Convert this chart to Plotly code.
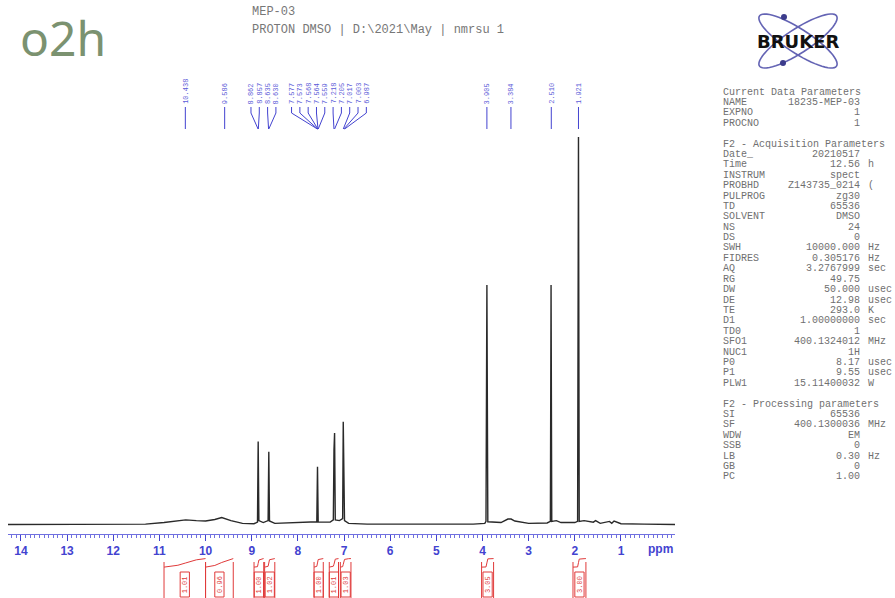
import numpy as np
import plotly.graph_objects as go

W, H = 895, 598

# spectrum: chemical shift (ppm) and relative intensity
ppm = [14.28, 12.0, 11.3, 10.9, 10.6, 10.43, 10.2, 10.0, 9.8, 9.65, 9.45, 9.2, 8.95,
       8.875, 8.86, 8.845, 8.75, 8.645, 8.63, 8.615, 8.5,
       7.62, 7.59, 7.575, 7.56, 7.3, 7.232, 7.218, 7.211, 7.205, 7.19, 7.1,
       7.03, 7.017, 7.010, 7.003, 6.99, 6.9, 6.5, 4.2, 3.95, 3.925, 3.905, 3.885,
       3.6, 3.45, 3.38, 3.3, 3.0, 2.6, 2.53, 2.515, 2.50, 2.4, 2.3, 2.0,
       1.94, 1.921, 1.905, 1.8, 1.6, 1.55, 1.45, 1.25, 1.2, 1.15, 1.0, 0.5, -0.17]
intensity = [0.0, 0.1, 0.1, 0.5, 1.0, 1.2, 1.0, 0.9, 1.3, 1.8, 1.0, 0.3, 0.2,
             0.6, 21.4, 1.0, 0.5, 1.0, 18.8, 0.9, 0.3,
             0.5, 0.7, 14.9, 0.6, 0.6, 1.2, 19.2, 9.0, 23.6, 1.2, 1.0,
             1.5, 26.5, 10.0, 22.3, 1.0, 0.3, 0.1, 0.1, 0.3, 0.8, 61.8, 0.7,
             0.5, 1.4, 1.4, 0.9, 0.3, 0.4, 0.8, 61.8, 0.8, 1.0, 0.5, 0.5,
             0.8, 100.0, 0.8, 1.0, 0.6, 1.0, 0.3, 0.8, 0.3, 0.9, 0.2, 0.1, 0.0]

# peak pick labels
peak_ppm = [10.438, 9.586, 8.862, 8.857, 8.635, 8.630,
            7.577, 7.573, 7.568, 7.564, 7.559, 7.218, 7.205, 7.017, 7.003, 6.987,
            3.905, 3.384, 2.510, 1.921]

# integrals
int_from = [10.90, 10.00, 8.95, 8.72, 7.65, 7.32, 7.08, 4.02, 2.04]
int_to = [10.00, 9.40, 8.74, 8.50, 7.45, 7.12, 6.85, 3.76, 1.76]
int_vals = ["1.01", "0.96", "1.00", "1.02", "1.00", "1.01", "1.03", "3.05", "3.00"]

x_ticks = list(range(14, 0, -1))

# acquisition / processing parameters panel
params = [
    ("Current Data Parameters", "", ""),
    ("NAME", "18235-MEP-03", ""),
    ("EXPNO", "1", ""),
    ("PROCNO", "1", ""),
    ("", "", ""),
    ("F2 - Acquisition Parameters", "", ""),
    ("Date_", "20210517", ""),
    ("Time", "12.56", "h"),
    ("INSTRUM", "spect", ""),
    ("PROBHD", "Z143735_0214", "("),
    ("PULPROG", "zg30", ""),
    ("TD", "65536", ""),
    ("SOLVENT", "DMSO", ""),
    ("NS", "24", ""),
    ("DS", "0", ""),
    ("SWH", "10000.000", "Hz"),
    ("FIDRES", "0.305176", "Hz"),
    ("AQ", "3.2767999", "sec"),
    ("RG", "49.75", ""),
    ("DW", "50.000", "usec"),
    ("DE", "12.98", "usec"),
    ("TE", "293.0", "K"),
    ("D1", "1.00000000", "sec"),
    ("TD0", "1", ""),
    ("SFO1", "400.1324012", "MHz"),
    ("NUC1", "1H", ""),
    ("P0", "8.17", "usec"),
    ("P1", "9.55", "usec"),
    ("PLW1", "15.11400032", "W"),
    ("", "", ""),
    ("F2 - Processing parameters", "", ""),
    ("SI", "65536", ""),
    ("SF", "400.1300036", "MHz"),
    ("WDW", "EM", ""),
    ("SSB", "0", ""),
    ("LB", "0.30", "Hz"),
    ("GB", "0", ""),
    ("PC", "1.00", ""),
]


def py(px):
    # pixel row -> paper y
    return 1 - px / H


def pxx(px):
    return px / W


BLUE = '#4343d0'
RED = '#e03a3a'

fig = go.Figure()
fig.add_trace(go.Scatter(x=ppm, y=intensity, mode='lines', hoverinfo='skip',
                         line=dict(color='#2a2a2a', width=1.4), showlegend=False))

shapes = []
annotations = []

# spread peak labels so they don't overlap
gap = 0.18
groups = [[v] for v in peak_ppm]


def place(g):
    c = np.mean(g)
    n = len(g)
    return [c + gap * ((n - 1) / 2 - k) for k in range(n)]


merged = True
while merged:
    merged = False
    for i in range(len(groups) - 1):
        if place(groups[i])[-1] - place(groups[i + 1])[0] < gap:
            groups[i] = groups[i] + groups.pop(i + 1)
            merged = True
            break
label_pos = [p for g in groups for p in place(g)]

for v, lp in zip(peak_ppm, label_pos):
    annotations.append(dict(x=lp, y=py(106), xref='x', yref='paper', text=f'{v:.3f}',
                            textangle=-90, showarrow=False, xanchor='center', yanchor='bottom',
                            font=dict(family='Liberation Mono', size=7, color='#5a5ad8')))
    shapes.append(dict(type='line', xref='x', yref='paper', x0=lp, x1=lp, y0=py(107), y1=py(113),
                       line=dict(color=BLUE, width=1)))
    shapes.append(dict(type='line', xref='x', yref='paper', x0=lp, x1=v, y0=py(113), y1=py(129),
                       line=dict(color=BLUE, width=1)))

# integrals
for a, b, t in zip(int_from, int_to, int_vals):
    mid = (a + b) / 2
    for e in (a, b):
        shapes.append(dict(type='line', xref='x', yref='paper', x0=e, x1=e, y0=py(562), y1=py(598),
                           line=dict(color=RED, width=1)))
    shapes.append(dict(type='rect', xref='x', yref='paper', x0=mid + 0.1, x1=mid - 0.1,
                       y0=py(597), y1=py(572), line=dict(color=RED, width=1)))
    annotations.append(dict(x=mid, y=py(584.5), xref='x', yref='paper', text=t, textangle=-90,
                            showarrow=False, xanchor='center', yanchor='middle',
                            font=dict(family='Liberation Mono', size=7, color=RED)))
    # running integral of the spectrum inside the region
    sx = [p for p in ppm if b < p < a]
    sy = [i for p, i in zip(ppm, intensity) if b < p < a]
    xs = [a] + sx + [b]
    ys = [0] + sy + [0]
    cum = np.concatenate([[0], np.cumsum(np.abs(np.diff(xs)) * (np.array(ys[1:]) + np.array(ys[:-1])) / 2)])
    if cum[-1] > 0:
        cum = cum / cum[-1]
    fig.add_trace(go.Scatter(x=xs, y=-11 + 2.2 * cum, mode='lines', hoverinfo='skip',
                             line=dict(color=RED, width=1), showlegend=False))

# ppm unit label
annotations.append(dict(x=0.15, y=py(549), xref='x', yref='paper', text='<b>ppm</b>', showarrow=False,
                        xanchor='center', yanchor='middle',
                        font=dict(family='Liberation Sans', size=12, color=BLUE)))

# header
annotations.append(dict(x=pxx(18), y=py(38), xref='paper', yref='paper', text='o2h', showarrow=False,
                        xanchor='left', yanchor='middle',
                        font=dict(family='Noto Sans', size=48, color='#7b9270')))
annotations.append(dict(x=pxx(250), y=py(12), xref='paper', yref='paper', text='MEP-03', showarrow=False,
                        xanchor='left', yanchor='middle',
                        font=dict(family='Liberation Mono', size=12, color='#777777')))
annotations.append(dict(x=pxx(250), y=py(30), xref='paper', yref='paper',
                        text='PROTON DMSO | D:\\2021\\May | nmrsu 1', showarrow=False,
                        xanchor='left', yanchor='middle',
                        font=dict(family='Liberation Mono', size=12, color='#777777')))

# parameters panel
pfont = dict(family='Liberation Mono', size=10, color='#707070')
for k, (key, val, unit) in enumerate(params):
    yy = py(92 + k * 10.4)
    if key:
        annotations.append(dict(x=pxx(721), y=yy, xref='paper', yref='paper', text=key, showarrow=False,
                                xanchor='left', yanchor='middle', font=pfont))
    if val:
        annotations.append(dict(x=pxx(862), y=yy, xref='paper', yref='paper', text=val, showarrow=False,
                                xanchor='right', yanchor='middle', font=pfont))
    if unit:
        annotations.append(dict(x=pxx(866), y=yy, xref='paper', yref='paper', text=unit, showarrow=False,
                                xanchor='left', yanchor='middle', font=pfont))

# bruker logo: two crossing orbits
t = np.linspace(0, 2 * np.pi, 60)
for ang in (np.radians(33), np.radians(-33)):
    ex = 798 + 46 * np.cos(t) * np.cos(ang) - 12 * np.sin(t) * np.sin(ang)
    ey = 41 + 46 * np.cos(t) * np.sin(ang) + 12 * np.sin(t) * np.cos(ang)
    path = 'M ' + ' L '.join(f'{pxx(a):.5f},{py(b):.5f}' for a, b in zip(ex, ey)) + ' Z'
    shapes.append(dict(type='path', xref='paper', yref='paper', path=path,
                       line=dict(color='#6464b4', width=1.6)))
for cx, cy in ((784, 17), (783, 63)):
    shapes.append(dict(type='circle', xref='paper', yref='paper', x0=pxx(cx - 3), x1=pxx(cx + 3),
                       y0=py(cy + 3), y1=py(cy - 3), fillcolor='#3c3c8c', line=dict(width=0)))
annotations.append(dict(x=pxx(798), y=py(42), xref='paper', yref='paper', text='<b>BRUKER</b>',
                        showarrow=False, xanchor='center', yanchor='middle', bgcolor='rgba(255,255,255,0)',
                        font=dict(family='DejaVu Sans', size=18, color='#111111')))

fig.update_layout(
    width=W, height=H, autosize=False,
    margin=dict(l=0, r=0, t=0, b=0),
    paper_bgcolor='white', plot_bgcolor='white',
    shapes=shapes, annotations=annotations,
    xaxis=dict(domain=[8 / W, 675 / W], range=[14.28, -0.17], anchor='free', position=py(534),
               showgrid=False, zeroline=False, showline=True, linecolor='#7070e0', linewidth=1,
               ticks='outside', ticklen=6, tickcolor=BLUE, tickvals=x_ticks,
               ticktext=[str(v) for v in x_ticks],
               tickfont=dict(family='Liberation Sans', size=12, color=BLUE, weight='bold'),
               minor=dict(dtick=0.1, ticks='outside', ticklen=3, tickcolor='#7070e0')),
    yaxis=dict(domain=[0, 1], range=[-18.97, 135.35], visible=False, fixedrange=True),
)

# page body has a default margin; drop it so the figure sits at the window origin
fig.write_html("out.html", config={'displayModeBar': False},
               post_script="document.body.style.margin='0';document.body.style.overflow='hidden';")
